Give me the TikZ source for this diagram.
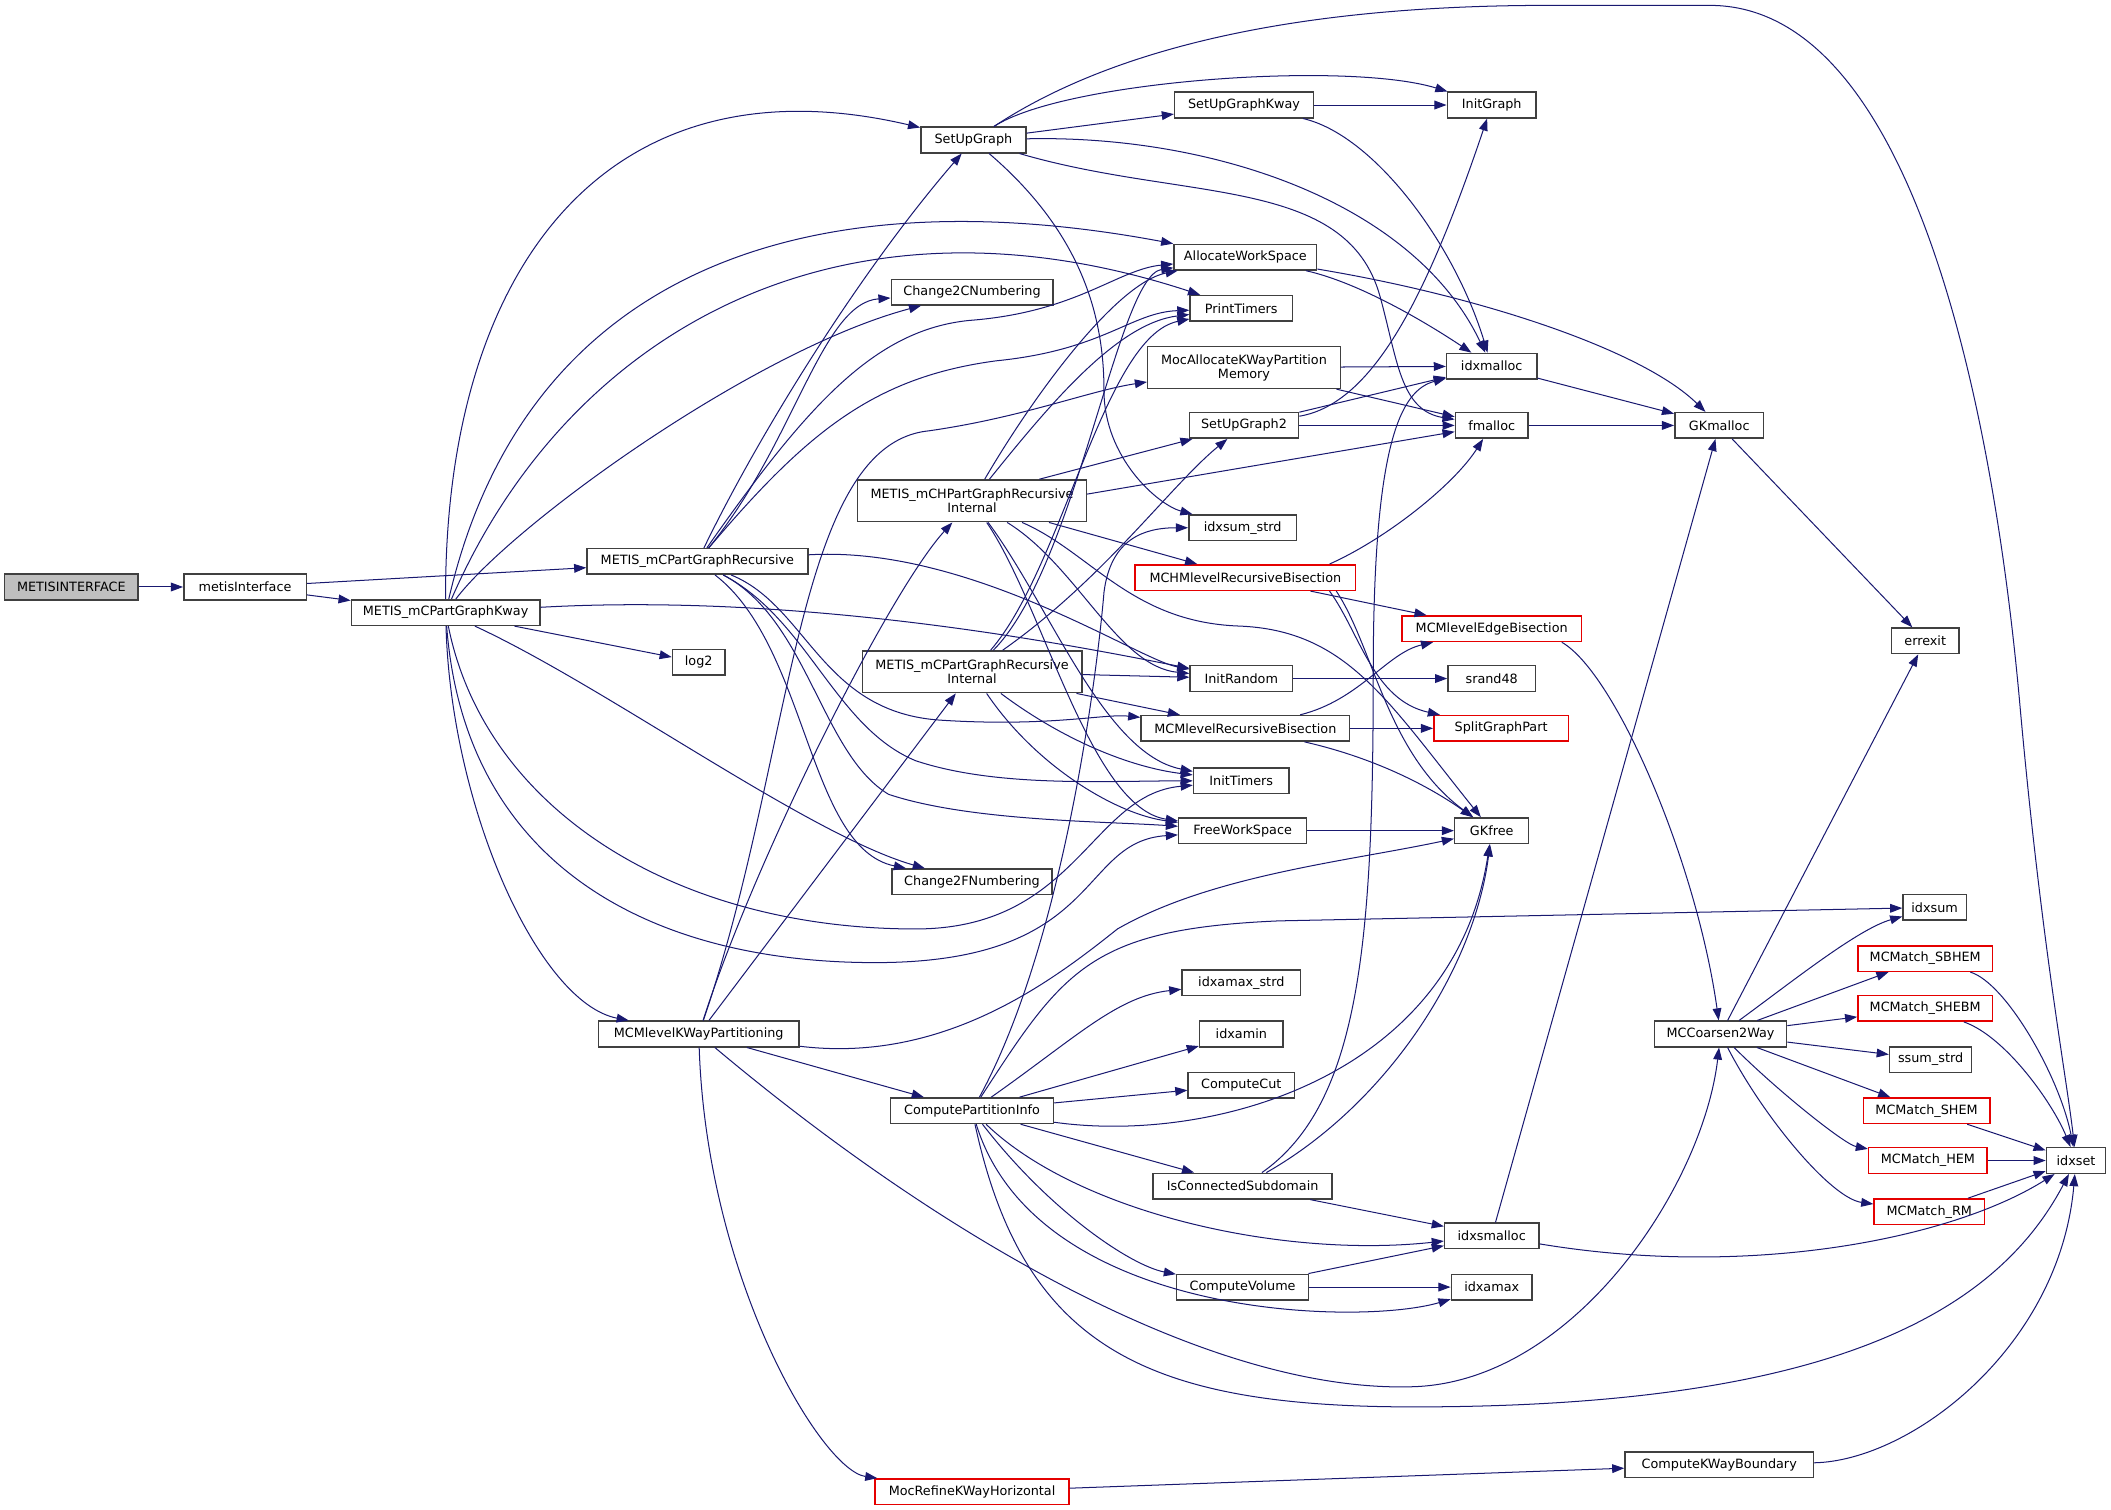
\documentclass[tikz,border=0pt]{standalone}
\usepackage{fontspec}
\setmainfont{DejaVu Sans}
\usetikzlibrary{arrows.meta}
\definecolor{edgeblue}{RGB}{25,25,112}
\definecolor{boxgray}{RGB}{191,191,191}
\tikzset{
  fn/.style={draw=black!75, line width=1.1pt, fill=white, rectangle, inner sep=0pt,
    minimum height=19pt, align=center, font=\fontsize{9.5}{10.5}\selectfont},
  fnred/.style={fn, draw=red!90!black},
  fnroot/.style={fn, fill=boxgray},
  call/.style={draw=edgeblue, line width=0.75pt, -{Triangle[length=9pt,width=6.5pt]}},
}
\begin{document}
\begin{tikzpicture}[x=1pt,y=-1pt]
\useasboundingbox (0,0) rectangle (1568,1121);

% callers
\node[fnroot, minimum width=99pt] (root) at (53,436) {METISINTERFACE};
\node[fn, minimum width=91pt] (mi) at (182,436) {metisInterface};
\node[fn, minimum width=140pt] (kway) at (331,455) {METIS\_mCPartGraphKway};
\node[fn, minimum width=164pt] (rec) at (518,417) {METIS\_mCPartGraphRecursive};
\node[fn, minimum width=39pt] (lg) at (519,492) {log2};
\node[fn, minimum width=149pt] (mkwp) at (519,768) {MCMlevelKWayPartitioning};

% column 5
\node[fn, minimum width=78pt] (sug) at (723,104) {SetUpGraph};
\node[fn, minimum width=120pt] (c2c) at (722,217) {Change2CNumbering};
\node[fn, minimum width=170pt, minimum height=31pt] (chri) at (722,372) {METIS\_mCHPartGraphRecursive\\Internal};
\node[fn, minimum width=163pt, minimum height=31pt] (cri) at (722,499) {METIS\_mCPartGraphRecursive\\Internal};
\node[fn, minimum width=119pt] (c2f) at (722,655) {Change2FNumbering};
\node[fn, minimum width=121pt] (cpi) at (722,825) {ComputePartitionInfo};
\node[fnred, minimum width=144pt] (mrkh) at (722,1108) {MocRefineKWayHorizontal};

% column 6
\node[fn, minimum width=103pt] (sugk) at (924,78) {SetUpGraphKway};
\node[fn, minimum width=106pt] (aws) at (925,191) {AllocateWorkSpace};
\node[fn, minimum width=76pt] (pt) at (922,229) {PrintTimers};
\node[fn, minimum width=143pt, minimum height=31pt] (makp) at (924,273) {MocAllocateKWayPartition\\Memory};
\node[fn, minimum width=81pt] (sug2) at (924,316) {SetUpGraph2};
\node[fn, minimum width=80pt] (iss) at (923,392) {idxsum\_strd};
\node[fnred, minimum width=164pt] (mhrb) at (925,429) {MCHMlevelRecursiveBisection};
\node[fn, minimum width=76pt] (ir) at (922,504) {InitRandom};
\node[fn, minimum width=155pt] (mrb) at (925,541) {MCMlevelRecursiveBisection};
\node[fn, minimum width=71pt] (it) at (922,580) {InitTimers};
\node[fn, minimum width=95pt] (fws) at (923,617) {FreeWorkSpace};
\node[fn, minimum width=88pt] (iamxs) at (922,730) {idxamax\_strd};
\node[fn, minimum width=62pt] (iamn) at (922,768) {idxamin};
\node[fn, minimum width=79pt] (cc) at (922,806) {ComputeCut};
\node[fn, minimum width=133pt] (ics) at (923,881) {IsConnectedSubdomain};
\node[fn, minimum width=98pt] (cv) at (923,956) {ComputeVolume};

% column 7
\node[fn, minimum width=66pt] (ig) at (1108,78) {InitGraph};
\node[fn, minimum width=67pt] (ixm) at (1108,272) {idxmalloc};
\node[fn, minimum width=54pt] (fm) at (1108,316) {fmalloc};
\node[fnred, minimum width=133pt] (meb) at (1108,467) {MCMlevelEdgeBisection};
\node[fn, minimum width=65pt] (sr) at (1108,504) {srand48};
\node[fnred, minimum width=100pt] (sgp) at (1115,541) {SplitGraphPart};
\node[fn, minimum width=55pt] (gkf) at (1108,617) {GKfree};
\node[fn, minimum width=70pt] (ixsm) at (1108,918) {idxsmalloc};
\node[fn, minimum width=60pt] (iamx) at (1108,956) {idxamax};

% column 8
\node[fn, minimum width=66pt] (gkm) at (1277,316) {GKmalloc};
\node[fn, minimum width=98pt] (mcc) at (1278,768) {MCCoarsen2Way};
\node[fn, minimum width=140pt] (ckb) at (1277,1088) {ComputeKWayBoundary};

% column 9 and 10
\node[fn, minimum width=50pt] (err) at (1430,476) {errexit};
\node[fn, minimum width=47pt] (isum) at (1437,674) {idxsum};
\node[fnred, minimum width=100pt] (sbhem) at (1430,712) {MCMatch\_SBHEM};
\node[fnred, minimum width=100pt] (shebm) at (1430,749) {MCMatch\_SHEBM};
\node[fn, minimum width=61pt] (ssum) at (1434,787) {ssum\_strd};
\node[fnred, minimum width=94pt] (shem) at (1431,825) {MCMatch\_SHEM};
\node[fnred, minimum width=88pt] (hem) at (1432,862) {MCMatch\_HEM};
\node[fnred, minimum width=82pt] (rm) at (1433,900) {MCMatch\_RM};
\node[fn, minimum width=44pt] (iset) at (1542,862) {idxset};

% root
\draw[call] (root) -- (mi);
\draw[call] (mi) -- (rec);
\draw[call] (mi) -- (kway);

% kway
\draw[call] (kway) .. controls (330,200) and (450,40) .. (sug);
\draw[call] (kway) .. controls (390,200) and (600,130) .. (aws);
\draw[call] (kway) .. controls (420,250) and (620,130) .. (pt);
\draw[call] (kway) .. controls (380,390) and (560,260) .. (c2c);
\draw[call] (kway) .. controls (600,440) and (800,480) .. (ir);
\draw[call] (kway) -- (lg);
\draw[call] (kway) .. controls (450,510) and (600,620) .. (c2f);
\draw[call] (kway) .. controls (360,600) and (500,690) .. (680,690) .. controls (800,690) and (810,590) .. (it);
\draw[call] (kway) .. controls (345,640) and (480,715) .. (650,715) .. controls (820,715) and (800,625) .. (fws);
\draw[call] (kway) .. controls (335,600) and (400,745) .. (mkwp);

% rec
\draw[call] (rec) .. controls (565,320) and (640,200) .. (sug);
\draw[call] (rec) .. controls (590,330) and (610,225) .. (c2c);
\draw[call] (rec) .. controls (600,300) and (650,245) .. (720,238) .. controls (800,232) and (830,200) .. (aws);
\draw[call] (rec) .. controls (600,320) and (650,280) .. (740,268) .. controls (820,260) and (840,232) .. (pt);
\draw[call] (rec) .. controls (720,405) and (845,490) .. (ir);
\draw[call] (rec) .. controls (600,450) and (610,530) .. (700,535) .. controls (780,540) and (820,530) .. (mrb);
\draw[call] (rec) .. controls (600,460) and (620,540) .. (680,565) .. controls (740,585) and (820,580) .. (it);
\draw[call] (rec) .. controls (600,460) and (610,560) .. (660,590) .. controls (720,610) and (820,610) .. (fws);
\draw[call] (rec) .. controls (600,480) and (600,630) .. (c2f);

% chri
\draw[call] (chri) .. controls (770,290) and (830,210) .. (aws);
\draw[call] (chri) .. controls (780,300) and (830,240) .. (pt);
\draw[call] ([xshift=50pt]chri.north) -- (sug2);
\draw[call] ([yshift=5pt]chri.east) -- (fm);
\draw[call] (chri) -- (mhrb);
\draw[call] (chri) .. controls (800,420) and (830,495) .. (ir);
\draw[call] (chri) .. controls (780,450) and (820,560) .. (it);
\draw[call] (chri) .. controls (775,450) and (810,600) .. (fws);
\draw[call] (chri) .. controls (810,410) and (840,462) .. (920,465) .. controls (1000,468) and (1030,520) .. (gkf);

% cri
\draw[call] (cri) .. controls (800,420) and (830,205) .. (aws);
\draw[call] (cri) .. controls (790,420) and (820,250) .. (pt);
\draw[call] (cri) .. controls (820,430) and (870,360) .. (sug2);
\draw[call] (cri) -- (ir);
\draw[call] (cri) -- (mrb);
\draw[call] (cri) .. controls (790,550) and (840,570) .. (it);
\draw[call] (cri) .. controls (770,570) and (830,605) .. (fws);

% mkwp
\draw[call] (mkwp) .. controls (560,640) and (660,440) .. (chri);
\draw[call] (mkwp) -- (cri);
\draw[call] (mkwp) .. controls (590,560) and (590,330) .. (690,320) .. controls (760,310) and (810,290) .. (makp);
\draw[call] (mkwp) -- (cpi);
\draw[call] (mkwp) .. controls (525,950) and (610,1092) .. (mrkh);
\draw[call] (mkwp) .. controls (700,790) and (780,730) .. (830,690) .. controls (900,650) and (1000,640) .. (gkf);
\draw[call] (mkwp) .. controls (700,920) and (900,1035) .. (1050,1030) .. controls (1170,1026) and (1265,880) .. (mcc);

% cpi
\draw[call] (cpi) .. controls (790,700) and (815,500) .. (820,440) .. controls (825,400) and (850,392) .. (iss);
\draw[call] (cpi) .. controls (790,720) and (810,690) .. (950,684) -- (isum);
\draw[call] (cpi) .. controls (800,770) and (830,740) .. (iamxs);
\draw[call] (cpi) -- (iamn);
\draw[call] (cpi) -- (cc);
\draw[call] (cpi) .. controls (900,850) and (1080,800) .. (gkf);
\draw[call] (cpi) -- (ics);
\draw[call] (cpi) .. controls (800,900) and (950,935) .. (ixsm);
\draw[call] (cpi) .. controls (780,900) and (840,940) .. (cv);
\draw[call] (cpi) .. controls (770,980) and (1010,985) .. (iamx);
\draw[call] (cpi) .. controls (760,1000) and (850,1045) .. (1050,1045) .. controls (1350,1045) and (1480,980) .. (iset);

% ics, cv, ixsm
\draw[call] (ics) .. controls (1010,820) and (1020,700) .. (1020,500) .. controls (1020,330) and (1040,290) .. (ixm);
\draw[call] (ics) .. controls (1030,820) and (1095,720) .. (gkf);
\draw[call] (ics) -- (ixsm);
\draw[call] (cv) -- (ixsm);
\draw[call] (cv) -- (iamx);
\draw[call] (ixsm) -- (gkm);
\draw[call] (ixsm) .. controls (1300,950) and (1450,920) .. (iset);
\draw[call] (mrkh) -- (ckb);
\draw[call] (ckb) .. controls (1420,1085) and (1530,1000) .. (iset);

% sug
\draw[call] (sug) -- (sugk);
\draw[call] (sug) .. controls (790,60) and (1000,45) .. (ig);
\draw[call] (sug) .. controls (820,40) and (950,4) .. (1150,4) -- (1270,4) .. controls (1420,4) and (1480,300) .. (1500,520) .. controls (1516,700) and (1535,800) .. (iset);
\draw[call] (sug) .. controls (900,100) and (1050,150) .. (ixm);
\draw[call] (sug) .. controls (880,150) and (1000,130) .. (1025,220) .. controls (1038,267) and (1040,305) .. (fm);
\draw[call] (sug) .. controls (800,170) and (820,230) .. (820,290) .. controls (820,340) and (860,375) .. (iss);
\draw[call] (sugk) -- (ig);
\draw[call] (sugk) .. controls (1020,100) and (1080,180) .. (ixm);

% allocation
\draw[call] (aws) .. controls (1010,210) and (1060,240) .. (ixm);
\draw[call] (aws) .. controls (1100,220) and (1220,260) .. (gkm);
\draw[call] (makp) -- (ixm);
\draw[call] (makp) -- (fm);
\draw[call] (sug2) -- (ixm);
\draw[call] (sug2) -- (fm);
\draw[call] (sug2) .. controls (1020,300) and (1060,220) .. (ig);
\draw[call] (ixm) -- (gkm);
\draw[call] (fm) -- (gkm);
\draw[call] (gkm) -- (err);

% bisection
\draw[call] ([xshift=-20pt]mhrb.north east) .. controls (1030,400) and (1080,360) .. (fm);
\draw[call] (mhrb) -- (meb);
\draw[call] ([xshift=-20pt]mhrb.south east) .. controls (1010,470) and (1020,520) .. (sgp);
\draw[call] ([xshift=-15pt]mhrb.south east) .. controls (1020,480) and (1030,560) .. (gkf);
\draw[call] (mrb) .. controls (1010,520) and (1030,485) .. (meb);
\draw[call] (mrb) -- (sgp);
\draw[call] (mrb) .. controls (1030,565) and (1070,590) .. (gkf);
\draw[call] ([xshift=-15pt]meb.south east) .. controls (1200,500) and (1260,640) .. (mcc);
\draw[call] (ir) -- (sr);
\draw[call] (fws) -- (gkf);

% coarsening
\draw[call] (mcc) -- (err);
\draw[call] (mcc) .. controls (1330,730) and (1380,690) .. (isum);
\draw[call] (mcc) -- (sbhem);
\draw[call] (mcc) -- (shebm);
\draw[call] (mcc) -- (ssum);
\draw[call] (mcc) -- (shem);
\draw[call] (mcc) .. controls (1320,810) and (1370,850) .. (hem);
\draw[call] (mcc) .. controls (1310,830) and (1360,890) .. (rm);
\draw[call] (sbhem) .. controls (1490,730) and (1530,800) .. (iset);
\draw[call] (shebm) .. controls (1490,770) and (1525,820) .. (iset);
\draw[call] (shem) -- (iset);
\draw[call] (hem) -- (iset);
\draw[call] (rm) -- (iset);
\end{tikzpicture}
\end{document}
